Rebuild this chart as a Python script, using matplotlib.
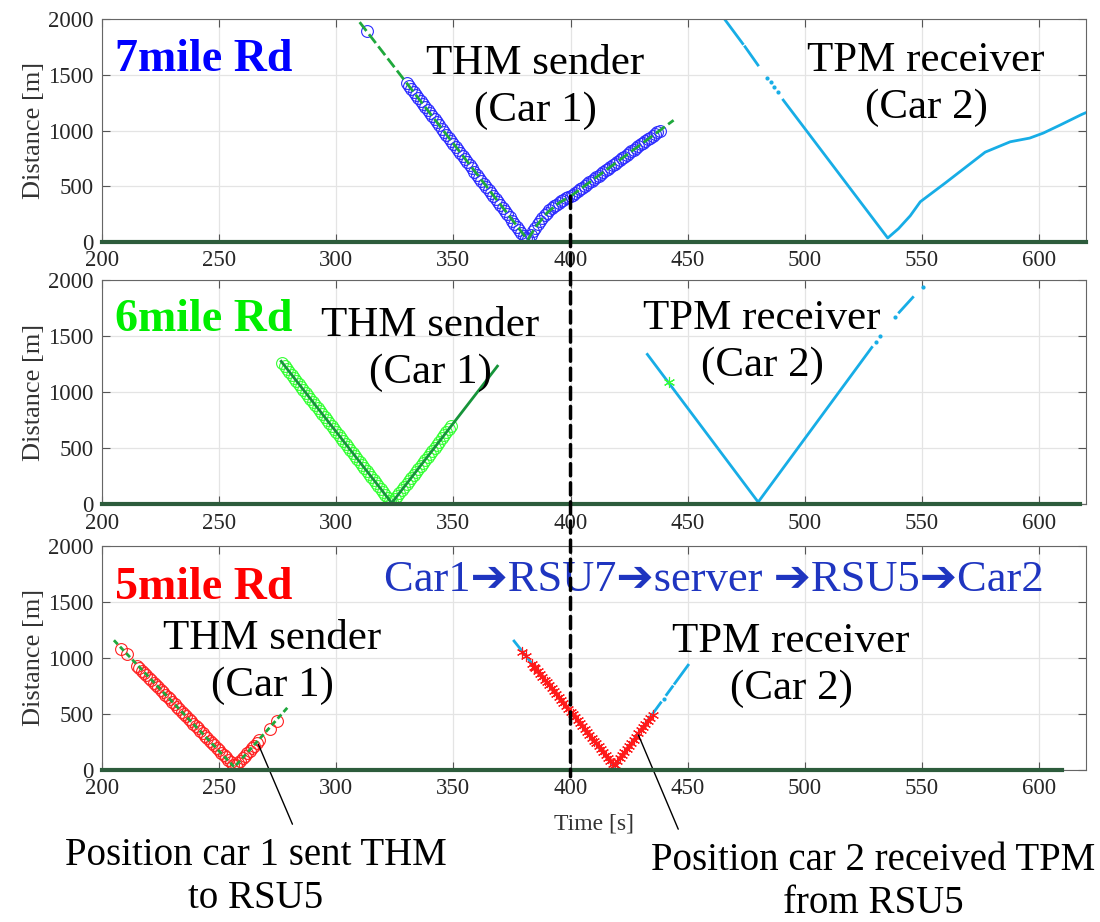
import numpy as np
import matplotlib.pyplot as plt
from matplotlib.patches import ConnectionPatch

plt.rcParams['font.family'] = ['Liberation Serif', 'DejaVu Sans']

xticks = [200, 250, 300, 350, 400, 450, 500, 550, 600]
yticks = [0, 500, 1000, 1500, 2000]
baseline_end = [620, 617.6, 610]

# ---- 7mile Rd ----
p7_car1_t = [306, 381.7, 383, 386, 390, 395, 400, 444]
p7_car1_d = [2080, 20, 65, 160, 262, 350, 410, 1092]
p7_thm_t = [313.2] + list(range(330, 439))
p7_thm_d = [1892,
            1430, 1402, 1375, 1348, 1320, 1292, 1265, 1238, 1210, 1182,
            1155, 1128, 1100, 1072, 1045, 1018, 990, 962, 935, 908,
            880, 852, 825, 798, 770, 742, 715, 688, 660, 632,
            605, 578, 550, 522, 495, 468, 440, 412, 385, 358,
            330, 302, 275, 248, 220, 192, 165, 138, 110, 82,
            55, 32, 30, 65, 100, 130, 160, 190, 215, 240,
            262, 283, 302, 320, 336, 350, 364, 378, 392, 401, 410,
            425, 441, 456, 472, 487, 503, 518, 534, 550, 565,
            580, 596, 612, 627, 642, 658, 674, 689, 704, 720,
            736, 751, 766, 782, 798, 813, 828, 844, 860, 875,
            890, 906, 922, 937, 952, 968, 984, 999]
p7_car2_t = [465.7, 473.5, np.nan, 474.5, 480.0, np.nan, 490.8, 535.4, 540, 545,
             549.3, 560, 577, 587.7, 596, 601.8, 609, 618.3, 620]
p7_car2_d = [2000, 1779, np.nan, 1751, 1587, np.nan, 1273, 36, 120, 235,
             361, 530, 806, 899, 932, 977, 1049, 1145, 1160]
p7_car2_dots_t = [484, 485.5, 487, 488.5]
p7_car2_dots_d = [1474, 1432, 1390, 1348]

# ---- 6mile Rd ----
p6_car1_t = [276.5, 323.7, 368.8]
p6_car1_d = [1275, 12, 1232]
p6_thm_t = list(range(277, 350))
p6_thm_d = [1262, 1235, 1208, 1182, 1155, 1128, 1101, 1074, 1048, 1021,
            994, 967, 940, 914, 887, 860, 833, 806, 780, 753,
            726, 699, 672, 646, 619, 592, 565, 538, 512, 485,
            458, 431, 404, 378, 351, 324, 297, 270, 244, 217,
            190, 163, 136, 110, 83, 56, 29,
            20, 47, 74, 101, 128, 155, 182, 209, 236, 263,
            290, 317, 344, 371, 398, 425, 452, 479, 506, 533,
            560, 587, 614, 641, 668, 695]
p6_car2_t = [432.8, 480.1, 528.6, np.nan, 540.3, 546.1]
p6_car2_d = [1337, 20, 1399, np.nan, 1712, 1845]
p6_car2_dots_t = [530.3, 532.2, 538.3, 550.3]
p6_car2_dots_d = [1450, 1500, 1667, 1934]
p6_tpm_t = [442.2]
p6_tpm_d = [1092]

# ---- 5mile Rd ----
p5_car1_t = [205.1, 256.5, 279.1]
p5_car1_d = [1156, 25, 554]
p5_thm_t = [208, 210.8] + list(range(215, 268)) + [271.7, 274.6]
p5_thm_d = [1082, 1037,
            929, 907, 886, 864, 843, 821, 800, 778, 757, 735,
            714, 692, 671, 649, 628, 606, 585, 563, 542, 520,
            499, 477, 456, 434, 413, 391, 370, 348, 327, 305,
            284, 262, 241, 219, 198, 176, 155, 133, 112, 90,
            69, 45, 40,
            59, 82, 104, 127, 150, 173, 195, 218, 241, 263,
            365, 440]
p5_car2_t = [375.9, 418.6, 435, 438.5, np.nan, 441, 443.5, np.nan, 444.5, 450.2]
p5_car2_d = [1149, 30, 499, 599, np.nan, 671, 742, np.nan, 771, 934]
p5_car2_dots_t = [439.7]
p5_car2_dots_d = [633]
p5_tpm_t = [379.5, 381, 383.5, 384.5] + list(range(385, 436))
p5_tpm_d = [1052, 1013, 948, 922,
            910, 884, 858, 832, 806, 780, 754, 728, 702, 676,
            651, 625, 599, 573, 547, 521, 495, 469, 443, 417,
            392, 366, 340, 314, 288, 262, 236, 210, 184, 158,
            133, 107, 81, 55, 45,
            77, 104, 132, 160, 187, 215, 242, 270, 298, 325,
            353, 380, 408, 436, 463, 491]

cyan = '#17ade6'
track_green = '#1fa83c'
base_green = '#2d5c3c'
star = (6, 2, 0)
big = 31

fig = plt.figure(figsize=(11, 9.22), dpi=100)
ax1 = fig.add_axes([0.0927, 0.7375, 0.8945, 0.2419])
ax2 = fig.add_axes([0.0927, 0.4530, 0.8945, 0.2433])
ax3 = fig.add_axes([0.0927, 0.1649, 0.8945, 0.2434])

for ax, xe in zip([ax1, ax2, ax3], baseline_end):
    ax.set_xlim(200, 620)
    ax.set_ylim(0, 2000)
    ax.set_xticks(xticks)
    ax.set_yticks(yticks)
    ax.grid(True, color='#e4e4e4', lw=0.9)
    ax.set_axisbelow(True)
    ax.tick_params(direction='in', length=6, top=True, right=True,
                   labelsize=16.5, labelcolor='#262626', color='#555555', pad=6)
    for s in ax.spines.values():
        s.set_color('#666666')
    ax.set_ylabel('Distance [m]', fontsize=19, color='#333333', labelpad=2)
    ax.plot([200, xe], [0, 0], color=base_green, lw=3, zorder=5, clip_on=False)

# 7mile
ax1.plot(p7_thm_t, p7_thm_d, 'o', ms=8.5, mfc='none', mec='#2b2bff', mew=0.8)
ax1.plot(p7_car1_t, p7_car1_d, color=track_green, lw=2, ls=(0, (4, 1.5)))
ax1.plot(p7_car2_t, p7_car2_d, color=cyan, lw=2)
ax1.plot(p7_car2_dots_t, p7_car2_dots_d, '.', color=cyan, ms=4)
ax1.text(205.5, 1630, '7mile Rd', color='#0000ff', fontsize=33, fontweight='bold',
         ha='left', va='center')
ax1.text(384.9, 1390, 'THM sender\n(Car 1)', fontsize=big, ha='center', va='center',
         linespacing=1.3)
ax1.text(551.8, 1417, 'TPM receiver\n(Car 2)', fontsize=big, ha='center', va='center',
         linespacing=1.3)

# 6mile
ax2.plot(p6_thm_t, p6_thm_d, 'o', ms=8.5, mfc='none', mec='#33ff33', mew=0.8)
ax2.plot(p6_car1_t, p6_car1_d, color='#16943a', lw=2)
ax2.plot(p6_car2_t, p6_car2_d, color=cyan, lw=2)
ax2.plot(p6_car2_dots_t, p6_car2_dots_d, '.', color=cyan, ms=4)
ax2.plot(p6_tpm_t, p6_tpm_d, marker=star, ls='none', ms=8, mec='#33ff33', mew=0.8)
ax2.text(205.5, 1643, '6mile Rd', color='#00ee00', fontsize=33, fontweight='bold',
         ha='left', va='center')
ax2.text(340, 1384, 'THM sender\n(Car 1)', fontsize=big, ha='center', va='center',
         linespacing=1.3)
ax2.text(481.8, 1446, 'TPM receiver\n(Car 2)', fontsize=big, ha='center', va='center',
         linespacing=1.3)

# 5mile
ax3.plot(p5_thm_t, p5_thm_d, 'o', ms=8.5, mfc='none', mec='#ff2020', mew=0.8)
ax3.plot(p5_car1_t, p5_car1_d, color=track_green, lw=2, ls=(0, (2, 1.2)))
ax3.plot(p5_car2_t, p5_car2_d, color=cyan, lw=2)
ax3.plot(p5_car2_dots_t, p5_car2_dots_d, '.', color=cyan, ms=4)
ax3.plot(p5_tpm_t, p5_tpm_d, marker=star, ls='none', ms=8, mec='#ff1a1a', mew=0.8)
ax3.text(205.5, 1618, '5mile Rd', color='#ff0000', fontsize=33, fontweight='bold',
         ha='left', va='center')
ax3.text(272.6, 960, 'THM sender\n(Car 1)', fontsize=big, ha='center', va='center',
         linespacing=1.3)
ax3.text(494.2, 933, 'TPM receiver\n(Car 2)', fontsize=big, ha='center', va='center',
         linespacing=1.3)
ax3.text(461.3, 1689, 'Car1\u2794RSU7\u2794server \u2794RSU5\u2794Car2', color='#1f35c0',
         fontsize=32, ha='center', va='center')
ax3.set_xlabel('Time [s]', fontsize=17, color='#333333', labelpad=10)

ax3.annotate('Position car 1 sent THM\nto RSU5', xy=(266.7, 231),
             xytext=(256, 922 - 877), textcoords='figure pixels',
             fontsize=28, ha='center', va='center', linespacing=1.2,
             arrowprops=dict(arrowstyle='-', color='black', lw=1,
                             relpos=(0.61, 1.0), shrinkA=8, shrinkB=0))
ax3.annotate('Position car 2 received TPM\nfrom RSU5', xy=(429, 311),
             xytext=(873, 922 - 882), textcoords='figure pixels',
             fontsize=28, ha='center', va='center', linespacing=1.2,
             arrowprops=dict(arrowstyle='-', color='black', lw=1,
                             relpos=(0.074, 1.0), shrinkA=8, shrinkB=0))

con = ConnectionPatch(xyA=(400, 410), coordsA=ax1.transData,
                      xyB=(400, -60), coordsB=ax3.transData,
                      color='black', lw=2.5, ls=(0, (3.5, 2)), zorder=10)
fig.add_artist(con)

plt.savefig('out.png', dpi=100)
